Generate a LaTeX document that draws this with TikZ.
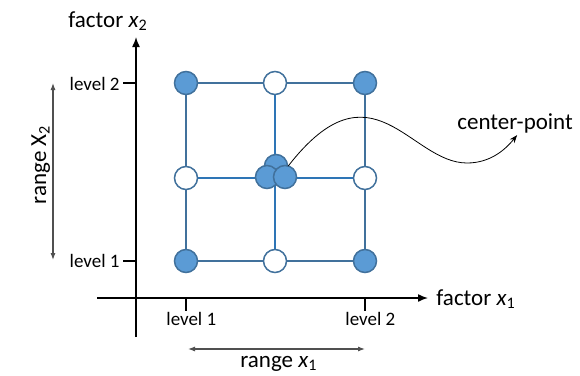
\documentclass[tikz,border=0pt]{standalone}
\usepackage{fontspec}
\setmainfont{Carlito}
\usetikzlibrary{arrows.meta}

\definecolor{ptfill}{RGB}{91,155,213}
\definecolor{ptdraw}{RGB}{65,113,156}
\definecolor{gridblue}{RGB}{46,117,182}
\definecolor{rangegray}{RGB}{80,80,80}

\begin{document}
\begin{tikzpicture}[x=1pt,y=-1pt,>=latex,thick,
	dot/.style={circle,draw=ptdraw,line width=1.5pt,fill=ptfill,minimum size=23pt,inner sep=0pt},
	hollow/.style={dot,fill=white},
	big/.style={font=\fontsize{23}{27}\selectfont,inner sep=0pt},
	small/.style={font=\fontsize{19}{23}\selectfont,inner sep=0pt}]
\useasboundingbox (0,0) rectangle (580,375);
\def\xl{186}
\def\xm{275}
\def\xr{365}
\def\yt{83}
\def\ym{178}
\def\yb{261}
\coordinate (tl) at (\xl,\yt);
\coordinate (tm) at (\xm,\yt);
\coordinate (tr) at (\xr,\yt);
\coordinate (ml) at (\xl,\ym);
\coordinate (mr) at (\xr,\ym);
\coordinate (bl) at (\xl,\yb);
\coordinate (bm) at (\xm,\yb);
\coordinate (br) at (\xr,\yb);
\draw[ptdraw,line width=1.5pt] (tl) -- (tr) -- (br) -- (bl) -- cycle;
\draw[gridblue,line width=1.5pt] (ml) -- (mr) (tm) -- (bm);
\node[dot] (ptl) at (tl) {};
\node[hollow] (ptm) at (tm) {};
\node[dot] (ptr) at (tr) {};
\node[hollow] (pml) at (ml) {};
\node[hollow] (pmr) at (mr) {};
\node[dot] (pbl) at (bl) {};
\node[hollow] (pbm) at (bm) {};
\node[dot] (pbr) at (br) {};
\node[dot] (c1) at (276,166) {};
\node[dot] (c2) at (267,177) {};
\node[dot] (c3) at (285,177) {};
\coordinate (xs) at (97,298);
\coordinate (xe) at (428,298);
\coordinate (ys) at (136,337);
\coordinate (ye) at (136,37);
\draw[line width=1.5pt,-{Latex[length=10pt,width=8pt]}] (xs) -- (xe);
\draw[line width=1.5pt,-{Latex[length=10pt,width=8pt]}] (ys) -- (ye);
\draw[line width=1.5pt] (\xl,298) -- (\xl,311) (\xr,298) -- (\xr,311);
\draw[line width=1.5pt] (123,\yt) -- (136,\yt) (123,\yb) -- (136,\yb);
\node[big,anchor=base west] (fx2) at (68,27) {factor \textit{x}\textsubscript{2}};
\node[big,anchor=base west] (fx1) at (436,305) {factor \textit{x}\textsubscript{1}};
\node[small,anchor=base east] (ly2) at (120,90) {level 2};
\node[small,anchor=base east] (ly1) at (120,267) {level 1};
\node[small,anchor=base west] (lx1) at (166,325) {level 1};
\node[small,anchor=base west] (lx2) at (345,325) {level 2};
\coordinate (r1a) at (188,349);
\coordinate (r1b) at (365,349);
\coordinate (r2a) at (53,83);
\coordinate (r2b) at (53,260);
\draw[rangegray,line width=1.1pt,{Latex[length=7pt,width=5pt]}-{Latex[length=7pt,width=5pt]}] (r1a) -- (r1b);
\draw[rangegray,line width=1.1pt,{Latex[length=7pt,width=5pt]}-{Latex[length=7pt,width=5pt]}] (r2a) -- (r2b);
\node[big,anchor=base west] (rx1) at (240,367) {range \textit{x}\textsubscript{1}};
\node[big,rotate=90,anchor=base] (rx2) at (46,165) {range X\textsubscript{2}};
\node[big,anchor=base west] (cp) at (457,129) {center-point};
\draw[line width=0.8pt,-{Stealth[length=8pt,width=6pt]}] (c1.east)
	.. controls (372,58) and (410,163) .. (467,163)
	.. controls (490,163) and (505,150) .. ([xshift=2pt,yshift=-2pt]cp.south);
\end{tikzpicture}
\end{document}
